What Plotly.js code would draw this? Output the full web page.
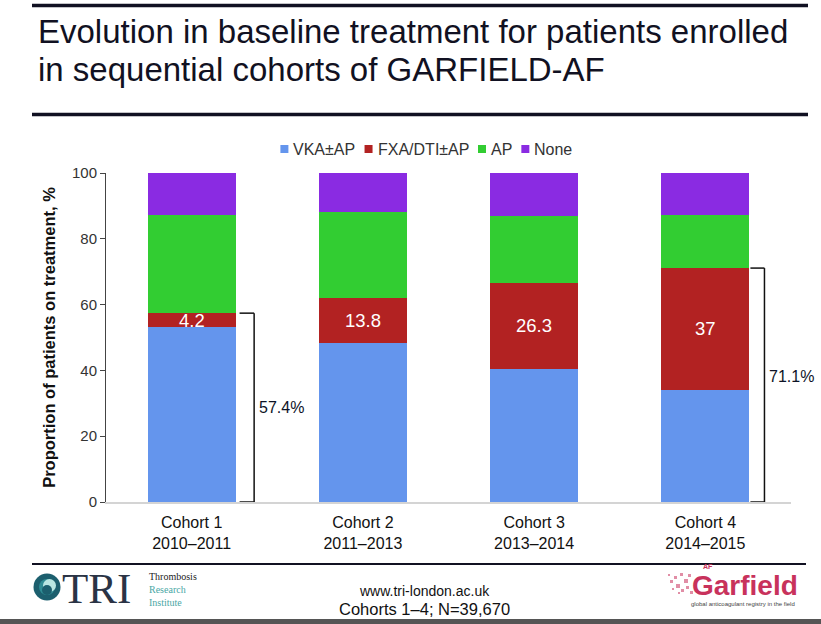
<!DOCTYPE html>
<html><head><meta charset="utf-8">
<script src="https://cdn.plot.ly/plotly-3.0.1.min.js"></script>
<style>html,body{margin:0;padding:0;background:#fff}#chart{width:821px;height:624px}</style>
</head><body><div id="chart"></div>
<script>
// ---- data ----
const cohorts = ['Cohort 1<br>2010–2011', 'Cohort 2<br>2011–2013', 'Cohort 3<br>2013–2014', 'Cohort 4<br>2014–2015'];
const seriesNames = ['VKA±AP', 'FXA/DTI±AP', 'AP', 'None'];
const vka  = [53.2, 48.2, 40.4, 34.1];
const fxa  = [4.2, 13.8, 26.3, 37.0];
const ap   = [29.8, 26.0, 20.1, 16.1];
const none = [12.8, 12.0, 13.2, 12.8];
const fxaLabels = ['4.2', '13.8', '26.3', '37'];
const bracketCohorts = [0, 3];
const bracketLabels = ['57.4%', '71.1%'];
const titleLines = ['Evolution in baseline treatment for patients enrolled', 'in sequential cohorts of GARFIELD-AF'];
const yTitle = 'Proportion of patients on treatment, %';
const footerLines = ['www.tri-london.ac.uk', 'Cohorts 1–4; N=39,670'];

// ---- style ----
const colors = ['#6495ED', '#B22222', '#32CD32', '#8A2BE2'];
const FONT = 'Liberation Sans, Arial, sans-serif';
const SERIF = 'Liberation Serif, Times New Roman, serif';
const W = 821, H = 624, ML = 106, MR = 30, MT = 173, MB = 122;
const PW = W - ML - MR, PH = H - MT - MB;
const px = x => (x - ML) / PW;
const py = y => (H - MB - y) / PH;

const series = [vka, fxa, ap, none];
const traces = series.map((vals, i) => ({
  type: 'bar', x: cohorts, y: vals, name: seriesNames[i],
  marker: {color: colors[i], line: {width: 0}},
  hoverinfo: 'name+y', showlegend: false
}));

const annotations = [];
const shapes = [];

// title
titleLines.forEach((t, i) => annotations.push({
  xref: 'paper', yref: 'paper', x: px(36), y: py(31.5 + i * 38.3), xanchor: 'left', yanchor: 'middle',
  text: t, showarrow: false, font: {family: FONT, size: 33, color: '#111122'}
}));
// rules
shapes.push({type: 'line', xref: 'paper', yref: 'paper', x0: px(32), x1: px(808), y0: py(5.5), y1: py(5.5), line: {color: '#111122', width: 3.5}});
shapes.push({type: 'line', xref: 'paper', yref: 'paper', x0: px(32), x1: px(808), y0: py(114.5), y1: py(114.5), line: {color: '#111122', width: 3.5}});
shapes.push({type: 'line', xref: 'paper', yref: 'paper', x0: px(32), x1: px(806), y0: py(564), y1: py(564), line: {color: '#111122', width: 2}});
shapes.push({type: 'rect', xref: 'paper', yref: 'paper', x0: px(0), x1: px(821), y0: py(619), y1: py(625), line: {width: 0}, fillcolor: '#555555'});

// legend (custom, measured)
const cv = document.createElement('canvas').getContext('2d');
cv.font = '16px "Liberation Sans"';
const sw = 8, g1 = 4, g2 = 10;
const widths = seriesNames.map(n => cv.measureText(n).width);
const total = widths.reduce((a, b) => a + b, 0) + seriesNames.length * (sw + g1) + (seriesNames.length - 1) * g2;
let cx = 426 - total / 2;
seriesNames.forEach((n, i) => {
  shapes.push({type: 'rect', xref: 'paper', yref: 'paper', x0: px(cx), x1: px(cx + sw), y0: py(153), y1: py(145), line: {width: 0}, fillcolor: colors[i]});
  annotations.push({xref: 'paper', yref: 'paper', x: px(cx + sw + g1 - 1), y: py(149.5), xanchor: 'left', yanchor: 'middle',
    text: n, showarrow: false, font: {family: FONT, size: 16, color: '#333333'}});
  cx += sw + g1 + widths[i] + g2;
});

// FXA labels
fxa.forEach((v, i) => annotations.push({
  x: i, y: vka[i] + v / 2, xref: 'x', yref: 'y', text: fxaLabels[i], showarrow: false,
  font: {family: FONT, size: 18.5, color: '#ffffff'}
}));

// brackets
bracketCohorts.forEach((c, k) => {
  const tot = vka[c] + fxa[c];
  const xv = c + (k === 0 ? 0.365 : 0.345);
  const xt = c + (k === 0 ? 0.28 : 0.263);
  const ln = {color: '#111111', width: 1.5};
  shapes.push({type: 'line', xref: 'x', yref: 'y', x0: xv, x1: xv, y0: 0, y1: tot, line: ln});
  shapes.push({type: 'line', xref: 'x', yref: 'y', x0: xt, x1: xv, y0: 0, y1: 0, line: ln});
  shapes.push({type: 'line', xref: 'x', yref: 'y', x0: xt, x1: xv, y0: tot, y1: tot, line: ln});
  annotations.push({x: xv + 0.015, y: tot / 2 + (k === 0 ? 0 : 2.5), xref: 'x', yref: 'y', xanchor: 'left',
    text: bracketLabels[k], showarrow: false, font: {family: FONT, size: 16, color: '#0d1326'}});
});

// footer: TRI logo
shapes.push({type: 'circle', xref: 'paper', yref: 'paper', x0: px(33.5), x1: px(60.5), y0: py(600.5), y1: py(573.5), line: {width: 0}, fillcolor: '#1c5f6e'});
shapes.push({type: 'circle', xref: 'paper', yref: 'paper', x0: px(39), x1: px(55), y0: py(595), y1: py(579), line: {width: 0}, fillcolor: '#2f8c94'});
shapes.push({type: 'circle', xref: 'paper', yref: 'paper', x0: px(43), x1: px(56), y0: py(592), y1: py(579), line: {width: 0}, fillcolor: '#b9e6e2'});
shapes.push({type: 'circle', xref: 'paper', yref: 'paper', x0: px(42), x1: px(52), y0: py(595), y1: py(585), line: {width: 0}, fillcolor: '#1c5f6e'});
annotations.push({xref: 'paper', yref: 'paper', x: px(60), y: py(588), xanchor: 'left', yanchor: 'middle', text: 'TRI', showarrow: false,
  font: {family: SERIF, size: 43, color: '#2a3345'}});
annotations.push({xref: 'paper', yref: 'paper', x: px(147), y: py(589), xanchor: 'left', yanchor: 'middle', align: 'left', showarrow: false,
  text: 'Thrombosis<br><span style="color:#4aa7a5">Research</span><br><span style="color:#4aa7a5">Institute</span>',
  font: {family: SERIF, size: 10, color: '#222222'}});
// footer centre text
annotations.push({xref: 'paper', yref: 'paper', x: px(424), y: py(591), xanchor: 'center', yanchor: 'middle', text: footerLines[0], showarrow: false,
  font: {family: FONT, size: 14, color: '#111111'}});
annotations.push({xref: 'paper', yref: 'paper', x: px(424), y: py(609), xanchor: 'center', yanchor: 'middle', text: footerLines[1], showarrow: false,
  font: {family: FONT, size: 16.5, color: '#111111'}});
// Garfield logo
const dots = [[670,580,3],[674,576,3],[676,584,4],[680,573,3],[681,589,3],[684,579,4],[686,586,3],[688,574,3],[672,588,2],[678,592,2],[668,574,2],[690,591,3]];
dots.forEach(d => shapes.push({type: 'rect', xref: 'paper', yref: 'paper', x0: px(d[0]), x1: px(d[0] + d[2]), y0: py(d[1] + d[2]), y1: py(d[1]),
  line: {width: 0}, fillcolor: 'rgba(200,50,92,0.55)'}));
annotations.push({xref: 'paper', yref: 'paper', x: px(690), y: py(585), xanchor: 'left', yanchor: 'middle', text: '<b>Garfield</b>', showarrow: false,
  font: {family: FONT, size: 28, color: '#c8325c'}});
annotations.push({xref: 'paper', yref: 'paper', x: px(708), y: py(566), xanchor: 'center', yanchor: 'middle', text: '<b>AF</b>', showarrow: false,
  font: {family: FONT, size: 7, color: '#c8325c'}});
annotations.push({xref: 'paper', yref: 'paper', x: px(743), y: py(603.5), xanchor: 'center', yanchor: 'middle', text: 'global anticoagulant registry in the field', showarrow: false,
  font: {family: FONT, size: 6, color: '#444444'}});

const layout = {
  width: W, height: H, margin: {l: ML, r: MR, t: MT, b: MB},
  paper_bgcolor: '#ffffff', plot_bgcolor: '#ffffff',
  barmode: 'stack', bargap: 0.486, showlegend: false,
  font: {family: FONT},
  xaxis: {type: 'category', range: [-0.5, 3.5], autorange: false, showline: true, linecolor: '#d4d4d4', linewidth: 1.5, ticks: '',
    showgrid: false, zeroline: false, ticklabelstandoff: 5,
    tickfont: {family: FONT, size: 16, color: '#111111'}, fixedrange: true},
  yaxis: {range: [0, 100], autorange: false, dtick: 20, showline: true, linecolor: '#444444', linewidth: 1, ticks: 'outside', ticklen: 5, tickcolor: '#444444',
    showgrid: false, zeroline: false, tickfont: {family: FONT, size: 15, color: '#333333'}, fixedrange: true,
    title: {text: yTitle, standoff: 12, font: {family: FONT, size: 16.5, color: '#111111', weight: 'bold'}}},
  annotations: annotations, shapes: shapes
};
Plotly.newPlot('chart', traces, layout, {displayModeBar: false, staticPlot: true});
</script></body></html>
